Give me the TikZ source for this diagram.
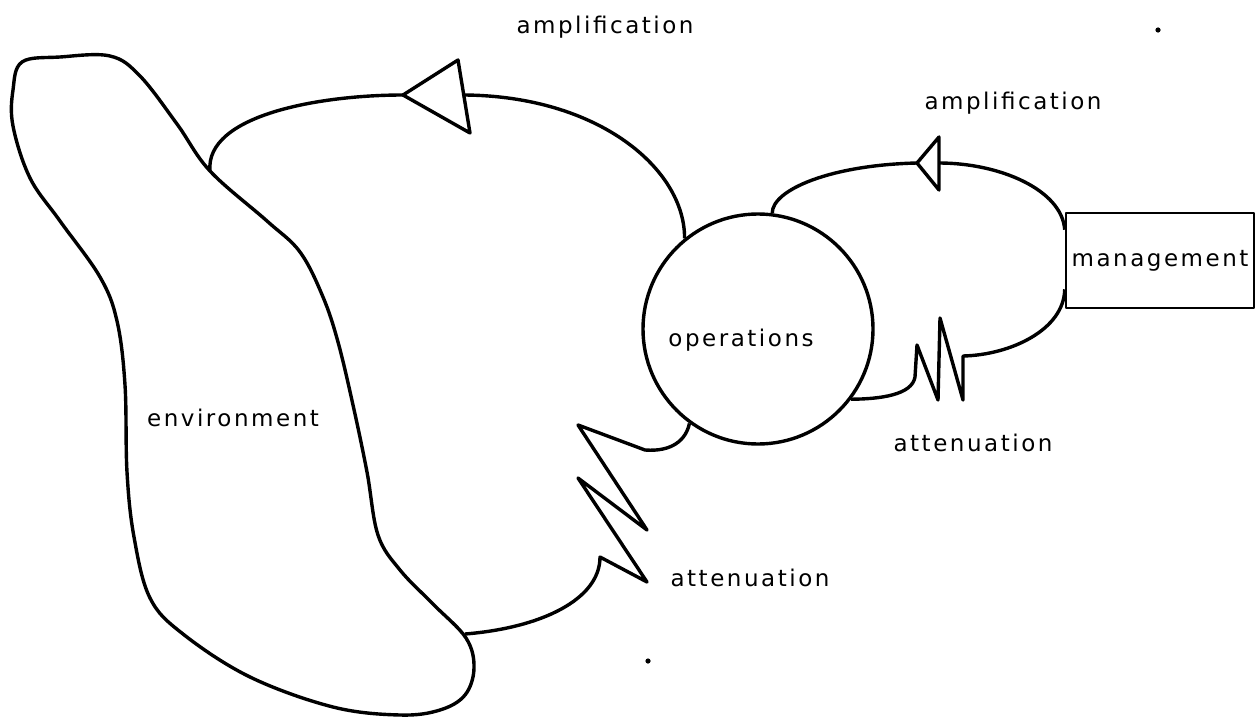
\documentclass[tikz,border=0pt]{standalone}
\usepackage{fontspec}
\newfontfamily\labelfont[LetterSpace=11]{DejaVu Sans}

\begin{document}
\begin{tikzpicture}[x=1pt, y=-1pt, line width=3.4pt, line join=round,
    lbl/.style={font=\labelfont\fontsize{23}{27}\selectfont, inner sep=0pt}]
    \useasboundingbox (0,0) rectangle (1257,717);
    % Draw the environment blob
    \coordinate (envtop) at (210,171);
    \coordinate (envbot) at (465,634);
    \draw plot[smooth cycle, tension=0.6] coordinates {(13,90) (22,62) (60,57) (110,56) (140,76) (177,124) (envtop) (267,221) (300,252) (323,297) (338,342) (353,405) (367,472) (378,535) (400,570) (433,604) (466,638) (474,668) (465,695) (440,710) (400,715) (333,707) (250,677) (183,634) (150,598) (134,537) (127,472) (125,385) (117,321) (100,277) (60,221) (30,178) (13,126)};
    \node[lbl] (env) at (233,418) {environment};
    % Draw operations and management
    \node[circle, draw, minimum size=230pt, inner sep=0pt] (ops) at (758,329) {};
    \node[lbl] (opstext) at (741,340) {operations};
    \node[lbl, draw, line width=2.6pt, minimum width=188pt, minimum height=95pt] (mgmt) at (1160,260.5) {management};
    % Draw the outer amplifier
    \coordinate (amptip) at (403,95);
    \coordinate (ampout) at (464,95);
    \draw (amptip) -- (458,60) -- (470,133) -- cycle;
    \draw (envtop) .. controls (205,115) and (320,95) .. (amptip);
    \draw (ampout) .. controls (600,96) and (685,170) .. (ops.129);
    \node[lbl] (amplabel) at (605,27) {amplification};
    % Draw the outer attenuator
    \draw (envbot) .. controls (540,628) and (600,600) .. (600,557) -- (647,582) -- (578,478) -- (647,530) -- (578,425) -- (645,450) .. controls (672,452) and (686,440) .. (ops.234);
    \node[lbl] (attlabel) at (750,578) {attenuation};
    % Draw the inner amplifier
    \coordinate (amptiptwo) at (917,163);
    \coordinate (ampouttwo) at (939,163);
    \draw (amptiptwo) -- (939,137) -- (939,190) -- cycle;
    \draw (ops.83) .. controls (772,190) and (830,165) .. (amptiptwo);
    \draw (ampouttwo) .. controls (1000,163) and (1062,190) .. ([yshift=-18pt]mgmt.north west);
    \node[lbl] (amplabeltwo) at (1013,103) {amplification};
    % Draw the inner attenuator
    \draw ([yshift=20pt]mgmt.south west) .. controls (1064,330) and (1010,355) .. (963,356) -- (963,400) -- (940,318) -- (938,400) -- (917,345) -- (915,377) .. controls (912,395) and (880,399) .. (ops.-37);
    \node[lbl] (attlabeltwo) at (973,443) {attenuation};
    % Draw the stray dots
    \fill (1158,30) circle (2.6pt);
    \fill (648,661) circle (2.6pt);
\end{tikzpicture}
\end{document}
